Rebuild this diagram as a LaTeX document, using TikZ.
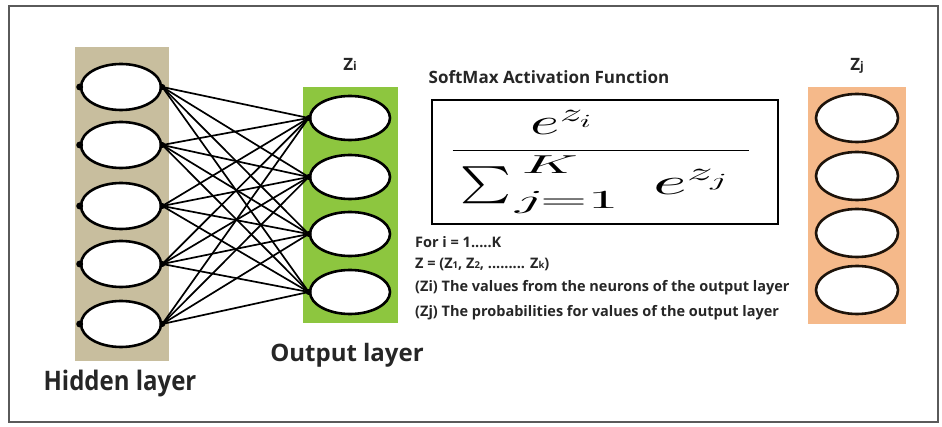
\documentclass[tikz,border=0pt]{standalone}
\usepackage{fontspec}
\usepackage{unicode-math}
\setmainfont{Open Sans}
\setmathfont{latinmodern-math.otf}
\usetikzlibrary{shapes.geometric}
\definecolor{hidbg}{HTML}{C8BE9E}
\definecolor{outbg}{HTML}{8DC63F}
\definecolor{probbg}{HTML}{F5B98A}
\definecolor{framegray}{HTML}{5A5A5A}
\newcommand{\limscale}[1]{\scalebox{1.8}[1]{$\scriptstyle #1$}}
\tikzset{
  neuron/.style={ellipse, draw=black, line width=2.6pt, fill=white, minimum width=80pt, minimum height=46pt, inner sep=0pt},
  probneuron/.style={neuron, draw=black!85!brown, minimum width=82pt, minimum height=48pt},
  link/.style={line width=1.7pt, black},
  pin/.style={circle, fill=black, inner sep=0pt, minimum size=6pt},
  lbl/.style={font=\bfseries\fontsize{24}{28}\selectfont, text=black!85},
  title/.style={font=\bfseries\fontsize{17}{20}\selectfont, text=black!85},
  note/.style={font=\bfseries\fontsize{14.5}{17}\selectfont, text=black!85, anchor=west, inner sep=0pt}
}
\begin{document}
\begin{tikzpicture}[x=1pt,y=-1pt]
\useasboundingbox (0,0) rectangle (942,427);
\draw[framegray, line width=1.5pt] (9,6) rectangle (938,422);
% layer backgrounds
\fill[hidbg] (75,47) rectangle (169,361);
\fill[outbg] (303,87) rectangle (398,323);
\fill[probbg] (808,87) rectangle (906,324);
% hidden neurons
\foreach \i/\y in {1/87,2/145,3/206,4/264,5/324}{
  \node[neuron] (h\i) at (121,\y) {};
  \node[pin, minimum size=7pt] (hl\i) at (h\i.west) {};
}
% output neurons
\foreach \i/\y in {1/118,2/177,3/234,4/292}{
  \node[neuron, minimum height=44pt] (o\i) at (350,\y) {};
}
% connections
\foreach \a in {1,...,5}{
  \foreach \b in {1,...,4}{
    \draw[link] (h\a.east) -- (o\b.west);
  }
}
\foreach \a in {1,...,5}{ \node[pin] (hr\a) at (h\a.east) {}; }
\foreach \b in {1,...,4}{ \node[pin] (ol\b) at (o\b.west) {}; }
% probability neurons
\foreach \i/\y in {1/118,2/176,3/233,4/290}{
  \node[probneuron] (p\i) at (857,\y) {};
}
% labels
\node[title] (zi) at (350,64) {Z{\fontsize{12}{14}\selectfont i}};
\node[title] (zj) at (857,66) {Z{\fontsize{12}{14}\selectfont j}};
\node[title] (sm) at (549,77) {SoftMax Activation Function};
\node[lbl] (hid) at (120,384) {\scalebox{1}[1.12]{Hidden layer}};
\node[lbl] (outl) at (347,355) {Output layer};
% formula box
\draw[line width=1.4pt] (432,100) rectangle (778,224);
\node[inner sep=0pt] (f) at (601,162) {\fontsize{37}{40}\selectfont\scalebox{1.3}[1]{$\displaystyle\frac{\scalebox{1.3}[1]{$e^{z_i}$}}{\mkern3mu\sum_{\mkern2mu\limscale{j=1}}^{\mkern6mu\limscale{K}}\mkern10mu\scalebox{1.5}[1]{$e^{z_j}$}\mkern8mu}$}};
% notes
\node[note] (n1) at (415,242) {For i = 1.....K};
\node[note] (n2) at (415,264) {Z = (Z{\fontsize{9.5}{10}\selectfont 1}, Z{\fontsize{9.5}{10}\selectfont 2}, ......... Z{\fontsize{9.5}{10}\selectfont k})};
\node[note] (n3) at (415,288) {(Zi) The values from the neurons of the output layer};
\node[note] (n4) at (415,313) {(Zj) The probabilities for values of the output layer};
\end{tikzpicture}
\end{document}
